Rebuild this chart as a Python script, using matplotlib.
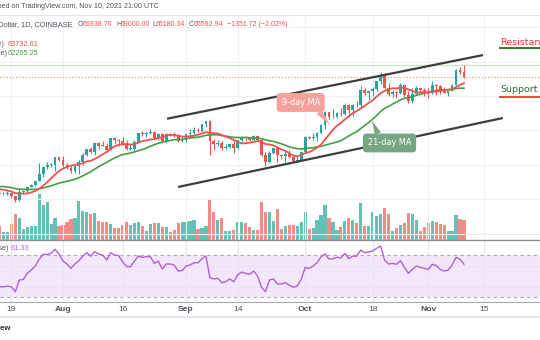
import numpy as np
import pandas as pd
import matplotlib
matplotlib.use('Agg')
import matplotlib.pyplot as plt

# BTC/USD daily, Coinbase, Jul 16 - Nov 10 2021
dates = pd.date_range('2021-07-16', '2021-11-10', freq='D')

open_ = [31780, 31400, 31530, 31780, 30840, 29800, 32130, 32290, 33600, 34250, 35400, 37300, 39440, 40000, 40010, 42200,
         41460, 39850, 39150, 38190, 39740, 40870, 42830, 44610, 43820, 46280, 45600, 45560, 44420, 47830, 47100, 47050,
         45940, 44690, 44710, 46760, 49340, 48870, 49280, 49510, 47700, 48980, 46850, 49070, 48900, 48810, 46990,
         47150, 48850, 49280, 50030, 49940, 51770, 52660, 46860, 46080, 46400, 44850, 45160, 46060, 44960, 47110,
         48140, 47760, 47300, 48310, 47250, 42970, 40700, 43570, 44890, 42840, 42700, 43210, 42170, 41030, 41520,
         43790, 48140, 47660, 48200, 49240, 51490, 55340, 53800, 53930, 54960, 54660, 57490, 56000, 57370, 57350,
         61670, 60880, 61530, 62010, 64280, 66000, 62210, 60690, 61290, 60850, 63080, 60330, 58480, 60590, 62250, 61870,
         61320, 61000, 63230, 62950, 61450, 61010, 61530, 63310, 67540, 66938.76]
high = [32250, 31950, 32450, 31900, 31050, 32850, 32590, 33650, 34490, 35400, 40550, 39550, 40900, 40630, 42300, 42410,
        42600, 40450, 39780, 39960, 41400, 43390, 44700, 45310, 46450, 46700, 46780, 46220, 47900, 48150, 47400, 48050,
        47160, 46020, 47100, 49380, 49800, 49500, 50500, 49870, 49270, 49370, 49200, 49330, 49660, 48930, 48250,
        49000, 50380, 51050, 50560, 51900, 52780, 52920, 47370, 47350, 47030, 45980, 46450, 46880, 47250, 48470,
        48500, 48160, 48800, 48370, 47330, 43620, 44000, 44980, 45000, 42990, 43950, 44350, 42780, 42650, 44100,
        48500, 48350, 49250, 49500, 51900, 55750, 55400, 56100, 55480, 56500, 57830, 57680, 57560, 58550, 62900,
        62350, 61700, 62650, 64450, 67000, 66650, 63700, 61750, 61500, 63700, 63290, 61500, 62450, 62950, 62350, 62450,
        62400, 64250, 63500, 63100, 62600, 61560, 63380, 67800, 68530, 69000]
low = [31020, 31180, 31110, 30480, 29280, 29500, 31700, 31950, 33420, 33880, 35200, 36400, 38800, 39290, 38330, 41050,
       39450, 38700, 37640, 37520, 37370, 39880, 42450, 43290, 42850, 44690, 45350, 43800, 44250, 45960, 45540, 45700,
       44390, 44230, 43950, 46650, 48300, 48130, 49050, 47600, 47150, 46330, 46400, 48400, 48100, 46750, 46700,
       46550, 48600, 48360, 49450, 49500, 50980, 42850, 44410, 45500, 44180, 44730, 44770, 43400, 44700, 46700,
       47050, 46780, 47050, 46850, 42500, 39600, 40560, 43100, 40800, 41700, 40800, 42100, 40900, 40750, 41420,
       43300, 47450, 47150, 46900, 49050, 50400, 53400, 53650, 53700, 54120, 54420, 53900, 54250, 56850, 56850,
       60200, 58950, 59900, 61350, 63500, 62050, 60000, 59700, 59550, 60650, 59850, 58000, 57850, 60200, 60750, 60000,
       59450, 60700, 60400, 60700, 60750, 60100, 61350, 63100, 66300, 65180.34]
close = [31400, 31530, 31780, 30840, 29800, 32130, 32290, 33600, 34250, 35400, 37300, 39440, 40000, 40010, 42200, 41460,
         39850, 39150, 38190, 39740, 40870, 42830, 44610, 43820, 46280, 45600, 45560, 44420, 47830, 47100, 47050, 45940,
         44690, 44710, 46760, 49340, 48870, 49280, 49510, 47700, 48980, 46850, 49070, 48900, 48810, 46990, 47150,
         48850, 49280, 50030, 49940, 51770, 52660, 46860, 46080, 46400, 44850, 45160, 46060, 44960, 47110, 48140,
         47760, 47300, 48310, 47250, 42970, 40700, 43570, 44890, 42840, 42700, 43210, 42170, 41030, 41520, 43790,
         48140, 47660, 48200, 49240, 51490, 55340, 53800, 53930, 54960, 54660, 57490, 56000, 57370, 57350, 61670,
         60880, 61530, 62010, 64280, 66000, 62210, 60690, 61290, 60850, 63080, 60330, 58480, 60590, 62250, 61870, 61320,
         61000, 63230, 62950, 61450, 61010, 61530, 63310, 67540, 66940, 65592.94]
volume = [14, 8, 8, 16, 26, 22, 11, 13, 14, 14, 46, 35, 38, 16, 22, 14,
          15, 18, 21, 22, 39, 29, 28, 26, 27, 19, 18, 18, 16, 12, 12, 15, 18, 15, 17, 18,
          14, 9, 16, 17, 17, 13, 13, 8, 10, 17, 18,
          18, 19, 20, 11, 12, 14, 40, 28, 20, 22, 9, 9, 10, 18, 18, 17, 13, 10, 10, 38,
          28, 28, 19, 31, 11, 14, 15, 15, 14, 18,
          28, 11, 12, 20, 25, 35, 22, 18, 10, 13, 19, 22, 20, 17, 37, 14, 14, 28, 24, 26,
          32, 26, 9, 12, 15, 17, 27, 26, 20, 9, 13,
          17, 19, 18, 16, 15, 9, 9, 25, 21, 20]
rsi = [40.0, 40.0, 40.6, 40.0, 35.3, 46.4, 46.8, 52.7, 55.8, 59.6, 65.9, 70.6, 70.6, 71.6, 75.4, 70.9,
       64.3, 61.5, 57.4, 61.5, 64.6, 69.0, 72.2, 69.0, 73.1, 70.9, 70.0, 65.3, 72.2, 70.0, 69.4, 63.7,
       59.0, 59.0, 64.3, 69.0, 67.8, 68.4, 68.4, 62.1, 64.3, 56.8, 61.5, 61.5, 60.5, 54.9, 55.2,
       59.6, 60.5, 62.7, 62.7, 66.5, 69.0, 48.6, 47.4, 48.0, 43.8, 44.8, 47.4, 44.8, 51.1, 53.9,
       52.7, 51.7, 54.9, 50.2, 39.5, 35.3, 46.4, 47.4, 42.6, 42.6, 43.8, 41.6, 39.5, 40.7, 47.0,
       58.3, 57.4, 59.6, 62.7, 68.4, 70.9, 66.2, 66.5, 67.8, 67.2, 71.6, 66.5, 69.0, 69.0, 74.7,
       72.2, 72.8, 73.8, 76.3, 78.5, 65.3, 61.5, 62.1, 61.2, 64.6, 58.3, 52.7, 56.4, 59.6, 58.3, 57.4,
       56.4, 61.2, 60.2, 56.4, 54.9, 55.8, 60.5, 67.8, 65.9, 61.33]

# closes before the visible window, needed for the moving averages
warm_dates = pd.date_range('2021-06-24', '2021-07-15', freq='D')
warm_close = [34660, 31590, 32280, 34700, 34490, 35910, 35040, 33540, 33820, 34680, 35290,
              33690, 34220, 33860, 32880, 33810, 33510, 34260, 33090, 32730, 32820, 31780]

tick_dates = pd.to_datetime(['2021-07-19', '2021-08-01', '2021-08-16', '2021-09-01', '2021-09-14',
                             '2021-10-01', '2021-10-18', '2021-11-01', '2021-11-15'])
tick_labels = ['19', 'Aug', '16', 'Sep', '14', 'Oct', '18', 'Nov', '15']

UP, DOWN = '#26a69a', '#ef5350'
o = np.array(open_)
c = np.array(close)
rising = c >= o
colors = np.where(rising, UP, DOWN)
vol_colors = np.where(rising, '#66c0b5', '#f38b87')

all_close = pd.Series(warm_close + close, index=warm_dates.append(dates))
ma9 = all_close.rolling(9).mean()
ma21 = all_close.rolling(21).mean()

W, H = 540, 340
fig = plt.figure(figsize=(W / 100, H / 100), dpi=100)


def rect(top, bottom):
    return [0, 1 - bottom / H, 1, (bottom - top) / H]


def px(x, y):
    return x / W, 1 - y / H


ax = fig.add_axes(rect(15, 240))
axv = ax.twinx()
axr = fig.add_axes(rect(240, 302), sharex=ax)
ax.set_zorder(axv.get_zorder() + 1)
ax.patch.set_visible(False)

x0 = dates[0] + pd.Timedelta(days=0.13)
x1 = dates[0] + pd.Timedelta(days=136.15)
ax.set_xlim(x0, x1)
ax.set_ylim(18140, 83550)

# volume underneath
axv.bar(dates, volume, width=0.8, color=vol_colors, linewidth=0)
axv.set_ylim(0, 225)
axv.axis('off')

# grid
ax.set_yticks(range(20000, 90000, 10000))
ax.set_xticks(tick_dates)
ax.grid(color='#edf0f5', lw=0.8)
ax.tick_params(length=0, labelleft=False, labelbottom=False)
for s in ['left', 'right']:
    ax.spines[s].set_visible(False)
ax.spines['top'].set_color('#e3e6ec')
ax.spines['bottom'].set_color('#8c8f98')
ax.spines['bottom'].set_linewidth(1.0)

# candles
ax.vlines(dates, low, high, color=colors, lw=0.8, zorder=3)
body = np.maximum(np.abs(c - o), 150)
ax.bar(dates, body, bottom=np.minimum(o, c), width=0.7, color=colors, linewidth=0, zorder=4)

# moving averages
ax.plot(ma21.index, ma21.values, color='#43a047', lw=1.2, zorder=5)
ax.plot(ma9.index, ma9.values, color='#f0524f', lw=1.3, zorder=5)

# horizontal levels
ax.axhline(69000, color='#c8e6c9', lw=0.9, zorder=2)
ax.axhline(close[-1], color='#e3a07c', lw=0.9, ls=(0, (1, 1.5)), zorder=2)

# channel drawn on the chart
ax.plot([pd.Timestamp('2021-08-27 05:00'), pd.Timestamp('2021-11-14 19:00')], [53400, 71900],
        color='#3d3d3d', lw=1.6, zorder=6, solid_capstyle='butt')
ax.plot([pd.Timestamp('2021-08-30'), pd.Timestamp('2021-11-19 19:00')], [33550, 53600],
        color='#3d3d3d', lw=1.6, zorder=6, solid_capstyle='butt')

# callouts
ax.annotate('9-day MA', xy=(pd.Timestamp('2021-10-07 06:00'), 51570),
            xytext=(pd.Timestamp('2021-09-29 21:00'), 58110),
            ha='center', va='center', color='white', fontsize=5.9, zorder=7,
            bbox=dict(boxstyle='round,pad=0.6,rounding_size=0.45', fc='#f6a19b', ec='none'),
            arrowprops=dict(arrowstyle='wedge,tail_width=0.8,shrink_factor=0.5', fc='#f6a19b', ec='none',
                            relpos=(0.85, 0.1), shrinkA=0, shrinkB=0))
ax.annotate('21-day MA', xy=(pd.Timestamp('2021-10-17 20:00'), 52730),
            xytext=(pd.Timestamp('2021-10-22 06:00'), 46340),
            ha='center', va='center', color='white', fontsize=5.9, zorder=7,
            bbox=dict(boxstyle='round,pad=0.6,rounding_size=0.45', fc='#76a682', ec='none'),
            arrowprops=dict(arrowstyle='wedge,tail_width=0.8,shrink_factor=0.5', fc='#76a682', ec='none',
                            relpos=(0.3, 0.9), shrinkA=0, shrinkB=0))

# resistance / support labels
lab_x = pd.Timestamp('2021-11-19 03:00')
ax.text(lab_x, 75500, 'Resistance', color='#e53935', fontsize=6.8, va='center', ha='left', zorder=7)
ax.plot([lab_x, x1 + pd.Timedelta(days=3)], [73870, 73870], color='#2e7d32', lw=1.4, zorder=7, clip_on=False)
ax.text(lab_x, 61950, 'Support', color='#2b6a2f', fontsize=6.8, va='center', ha='left', zorder=7)
ax.plot([lab_x, x1 + pd.Timedelta(days=3)], [59800, 59800], color='#f44336', lw=1.4, zorder=7, clip_on=False)

# RSI pane
axr.set_ylim(25.6, 84.2)
axr.axhspan(30, 70, color='#f3e7fc', lw=0, zorder=0)
axr.axhline(70, color='#a9a9b3', lw=0.8, ls=(0, (3, 3)), zorder=1)
axr.axhline(30, color='#a9a9b3', lw=0.8, ls=(0, (3, 3)), zorder=1)
axr.plot(dates, rsi, color='#b25fd8', lw=1.0, zorder=3)
axr.set_yticks([40, 60])
axr.grid(color='#e8e4f2', lw=0.8)
axr.set_xticks(tick_dates)
axr.set_xticklabels(tick_labels, family='Liberation Sans')
axr.tick_params(axis='x', length=0, pad=2.8, labelsize=6.1, labelcolor='#50535e')
axr.tick_params(axis='y', length=0, labelleft=False)
for lbl in axr.get_xticklabels():
    if not lbl.get_text().isdigit():
        lbl.set_fontweight('bold')
for s in ['left', 'right', 'top']:
    axr.spines[s].set_visible(False)
axr.spines['bottom'].set_color('#a3a6ae')
axr.set_xlim(x0, x1)

# texts around the chart
fig.text(*px(-22, 7), 'Published on TradingView.com, Nov 10, 2021 21:00 UTC', color='#50535e',
         va='center', ha='left', family='Liberation Sans', fontsize=5.1)
row = dict(family='Liberation Sans', fontsize=5.3, va='center')
ohlc = dict(family='Liberation Sans', fontsize=5.0, va='center')
fig.text(*px(73, 24.5), 'Bitcoin / U.S. Dollar, 1D, COINBASE', color='#50535e', ha='right', **row)
for lx, lab, vx, val in [(78, 'O', 83, '66938.76'), (116, 'H', 121, '69000.00'),
                         (152, 'L', 156, '65180.34'), (189, 'C', 194, '65592.94')]:
    fig.text(*px(lx, 24.5), lab, color='#50535e', ha='left', **ohlc)
    fig.text(*px(vx, 24.5), val, color=DOWN, ha='left', **ohlc)
fig.text(*px(227, 24.5), '\u22121351.72 (\u22122.02%)', color=DOWN, ha='left', **ohlc)
fig.text(*px(4, 44), 'MA (9, close)', color='#50535e', ha='right', **row)
fig.text(*px(8, 44), '63732.61', color=DOWN, ha='left', **row)
fig.text(*px(7, 53.5), 'MA (21, close)', color='#50535e', ha='right', **row)
fig.text(*px(8, 53.5), '62265.25', color='#43a047', ha='left', **row)
fig.text(*px(8, 249), 'RSI (14, close)', color='#50535e', ha='right', **row)
fig.text(*px(11, 249), '61.33', color='#b25fd8', ha='left', **row)

fig.add_artist(plt.Line2D([0, 1], [1 - 317 / H] * 2, color='#e6e8ed', lw=1.5))
fig.text(*px(11.5, 329), 'TradingView', color='#2a2e39', family='Liberation Sans', fontsize=5.6,
         fontweight='bold', ha='right', va='center')

fig.savefig('out.png', dpi=100)
